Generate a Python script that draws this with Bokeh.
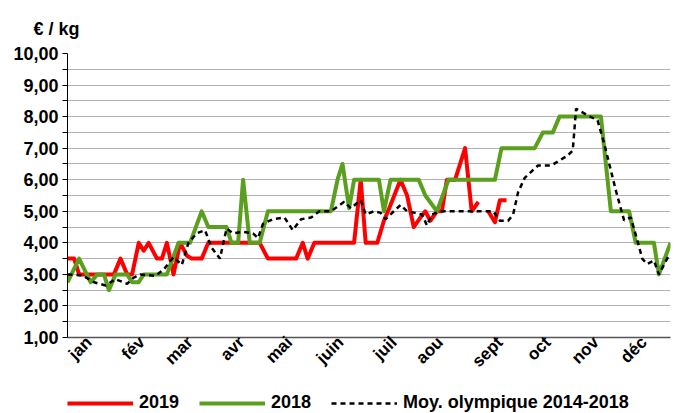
import math
from bokeh.plotting import figure
from bokeh.layouts import column
from bokeh.models import (Range1d, FixedTicker, Legend, LegendItem)
from bokeh.embed import file_html
from bokeh.resources import INLINE

# ---- data (x = day of year) ----
red_days = [1, 5, 8, 29, 33, 37, 40, 44, 47, 50, 55, 58, 61, 65, 69, 73, 76, 82, 86, 117,
            122, 139, 143, 146, 150, 174, 178, 181, 188, 192, 196, 202, 206, 210, 214, 217, 220, 224, 227, 230,
            235, 241, 245, 249, 252, 255, 259, 262, 266]
red_vals = [3.5, 3.5, 3.0, 3.0, 3.5, 3.0, 3.0, 4.0, 3.75, 4.0, 3.5, 3.5, 4.0, 3.0, 4.0, 3.6, 3.5, 3.5, 4.0, 4.0,
            3.5, 3.5, 4.0, 3.5, 4.0, 4.0, 6.0, 4.0, 4.0, 4.7, 5.2, 6.0, 5.5, 4.5, 4.8, 5.0, 4.7, 5.0, 5.0, 6.0,
            6.0, 7.0, 5.0, 5.3, float("nan"), 5.0, 4.65, 5.35, 5.35]

green_days = [1, 8, 15, 19, 23, 26, 30, 37, 40, 44, 47, 61, 68, 75, 82, 86, 97, 100, 104, 107,
              111, 117, 122, 160, 164, 167, 171, 174, 189, 192, 196, 213, 217, 224, 231, 259, 263, 283, 288, 294,
              298, 323, 329, 340, 344, 355, 358, 365]
green_vals = [2.75, 3.5, 2.75, 3.0, 3.0, 2.5, 3.0, 3.0, 2.75, 2.75, 3.0, 3.0, 4.0, 4.0, 5.0, 4.5, 4.5, 4.0, 4.0, 6.0,
              4.0, 4.0, 5.0, 5.0, 6.0, 6.5, 5.1, 6.0, 6.0, 5.0, 6.0, 6.0, 5.5, 5.0, 6.0, 6.0, 7.0, 7.0, 7.5, 7.5,
              8.0, 8.0, 5.0, 5.0, 4.0, 4.0, 3.0, 4.0]

avg_days = [1, 10, 17, 24, 30, 37, 41, 45, 54, 59, 65, 70, 74, 79, 84, 88, 93, 97, 101, 107,
            113, 116, 119, 125, 132, 137, 142, 148, 153, 160, 168, 172, 178, 181, 186, 190, 193, 198, 202, 206,
            211, 215, 218, 221, 226, 258, 262, 267, 270, 273, 277, 285, 293, 303, 306, 308, 315, 321, 325, 332,
            337, 341, 345, 348, 351, 355, 358, 364]
avg_vals = [3.0, 2.97, 2.75, 2.65, 2.85, 2.7, 2.9, 3.0, 2.95, 3.15, 3.55, 3.3, 4.0, 4.3, 4.4, 3.85, 3.5, 4.45, 4.3, 4.35,
            4.3, 4.15, 4.6, 4.75, 4.8, 4.4, 4.75, 4.8, 5.0, 5.0, 5.3, 5.1, 5.35, 4.9, 5.0, 4.95, 4.75, 5.0, 5.2, 5.0,
            4.95, 4.9, 4.55, 4.9, 5.0, 5.0, 4.7, 4.7, 4.9, 5.6, 6.06, 6.45, 6.45, 6.77, 6.93, 8.25, 8.04, 7.88, 7.14, 5.66,
            4.71, 4.81, 4.07, 3.49, 3.33, 3.44, 3.0, 3.6]

month_days = [14, 46, 75, 106, 135, 166, 198, 226, 262, 291, 320, 349]
month_labels = ["jan", "fév", "mar", "avr", "mai", "juin", "juil", "aou", "sept", "oct", "nov", "déc"]

y_ticks = [1, 2, 3, 4, 5, 6, 7, 8, 9, 10]
y_tick_labels = ["1,00", "2,00", "3,00", "4,00", "5,00", "6,00", "7,00", "8,00", "9,00", "10,00"]
y_minor = [1.5, 2.5, 3.5, 4.5, 5.5, 6.5, 7.5, 8.5, 9.5]

series_names = ["2019", "2018", "Moy. olympique 2014-2018"]
unit_text = "€ / kg"

FONT = "Liberation Sans"
RED, GREEN, BLACK = "#ff0000", "#5a9f1e", "black"

p = figure(width=681, height=383, output_backend="svg", toolbar_location=None,
           x_range=Range1d(1, 365), y_range=Range1d(1, 10),
           min_border_left=67, min_border_right=11, min_border_top=53, min_border_bottom=46)
p.outline_line_color = None
p.background_fill_color = "white"

# title used as unit label
p.title.text = unit_text
p.title.align = "left"
p.title.offset = -34
p.title.standoff = 30
p.title.text_font = FONT
p.title.text_font_style = "bold"
p.title.text_font_size = "18px"
p.title.text_color = "black"

# grid
p.xgrid.grid_line_color = None
p.ygrid.ticker = FixedTicker(ticks=y_ticks, minor_ticks=y_minor)
p.ygrid.grid_line_color = "#b3b3b3"
p.ygrid.minor_grid_line_color = "#b3b3b3"

# y axis
ya = p.yaxis[0]
ya.ticker = FixedTicker(ticks=y_ticks, minor_ticks=y_minor)
ya.major_label_overrides = {t: l for t, l in zip(y_ticks, y_tick_labels)}
ya.major_label_text_font = FONT
ya.major_label_text_font_style = "bold"
ya.major_label_text_font_size = "18px"
ya.major_label_text_color = "black"
ya.axis_line_color = "black"
ya.major_tick_out = 5
ya.major_tick_in = 0
ya.minor_tick_out = 5
ya.minor_tick_in = 0
ya.major_tick_line_color = "black"
ya.minor_tick_line_color = "black"
ya.major_label_standoff = 4

# x axis
xa = p.xaxis[0]
xa.ticker = FixedTicker(ticks=month_days)
xa.major_label_overrides = {d: m for d, m in zip(month_days, month_labels)}
xa.major_label_orientation = math.pi / 4
xa.major_label_text_font = FONT
xa.major_label_text_font_style = "bold"
xa.major_label_text_font_size = "17px"
xa.major_label_text_color = "black"
xa.axis_line_color = "#555555"
xa.axis_line_width = 1.5
xa.major_tick_out = 0
xa.major_tick_in = 0
xa.major_tick_line_color = None
xa.minor_tick_line_color = None
xa.major_label_standoff = 2

p.line(red_days, red_vals, line_color=RED, line_width=4, line_join="round")
p.line(green_days, green_vals, line_color=GREEN, line_width=4, line_join="round")
p.line(avg_days, avg_vals, line_color=BLACK, line_width=2.5, line_dash="5 4")

# legend strip below the chart (key renderers sit outside the strip's visible range)
q = figure(width=681, height=30, output_backend="svg", toolbar_location=None, title=None,
           x_range=Range1d(0, 1), y_range=Range1d(0, 1),
           x_axis_location=None, y_axis_location=None, min_border=0)
q.outline_line_color = None
q.xgrid.grid_line_color = None
q.ygrid.grid_line_color = None
k_red = q.line([-5, -4], [-5, -4], line_color=RED, line_width=4)
k_green = q.line([-5, -4], [-5, -4], line_color=GREEN, line_width=4)
k_avg = q.line([-5, -4], [-5, -4], line_color=BLACK, line_width=2.5, line_dash="5 4")

legend = Legend(items=[LegendItem(label=series_names[0], renderers=[k_red]),
                       LegendItem(label=series_names[1], renderers=[k_green]),
                       LegendItem(label=series_names[2], renderers=[k_avg])],
                orientation="horizontal", location=(0, 0),
                glyph_width=66, glyph_height=20, label_standoff=6, spacing=20,
                padding=0, margin=0, border_line_color=None, background_fill_alpha=0,
                label_text_font=FONT, label_text_font_style="bold", label_text_font_size="18px",
                label_text_color="black")
q.add_layout(legend, "center")

open("out.html", "w").write(file_html(column(p, q, spacing=0), INLINE))
